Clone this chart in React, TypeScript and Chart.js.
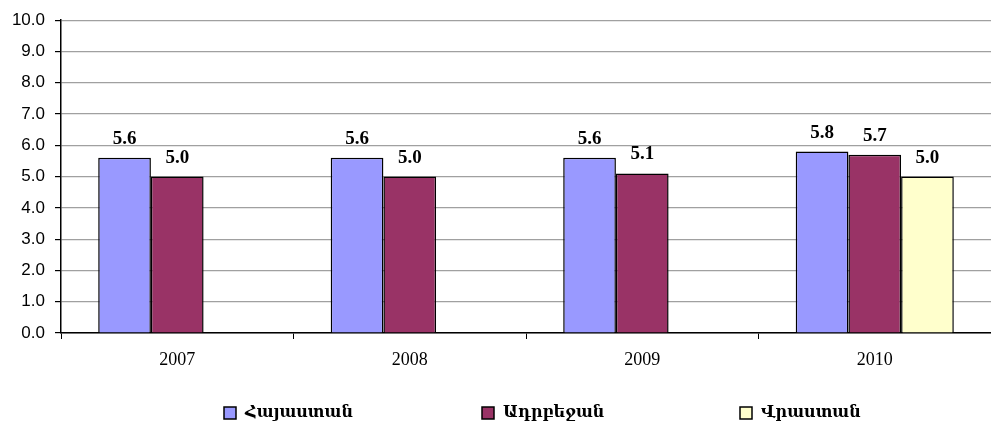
import React, { useEffect, useRef } from "react";
import { Chart, registerables } from "chart.js";

Chart.register(...registerables);

const years = ["2007", "2008", "2009", "2010"];
const seriesNames = ["Հայաստան", "Ադրբեջան", "Վրաստան"];
const armenia = [5.6, 5.6, 5.6, 5.8];
const azerbaijan = [5.0, 5.0, 5.1, 5.7];
const georgia: (number | null)[] = [null, null, null, 5.0];
const colors = ["#9999FF", "#993366", "#FFFFCC"];

const valueLabels = {
  id: "valueLabels",
  afterDatasetsDraw(chart: any) {
    const ctx = chart.ctx;
    ctx.save();
    ctx.font = "bold 19px 'Liberation Serif', 'Times New Roman', serif";
    ctx.fillStyle = "#000";
    ctx.textAlign = "center";
    ctx.textBaseline = "alphabetic";
    chart.data.datasets.forEach((ds: any, i: number) => {
      const meta = chart.getDatasetMeta(i);
      meta.data.forEach((bar: any, j: number) => {
        const v = ds.data[j];
        if (v === null || v === undefined) return;
        ctx.fillText(v.toFixed(1), bar.x, bar.y - 14);
      });
    });
    ctx.restore();
  },
};

const bottomLegend = {
  id: "bottomLegend",
  afterDraw(chart: any) {
    const ctx = chart.ctx;
    ctx.save();
    ctx.font = "bold 16px 'DejaVu Serif', serif";
    ctx.textBaseline = "middle";
    ctx.textAlign = "left";
    const y = 413;
    const startX = 224;
    const step = 258;
    chart.data.datasets.forEach((ds: any, i: number) => {
      const x = startX + i * step;
      ctx.fillStyle = ds.backgroundColor;
      ctx.fillRect(x, y - 6, 12, 12);
      ctx.strokeStyle = "#000";
      ctx.lineWidth = 1.5;
      ctx.strokeRect(x, y - 6, 12, 12);
      ctx.fillStyle = "#000";
      ctx.fillText(ds.label, x + 21, y);
    });
    ctx.restore();
  },
};

export default function App() {
  const ref = useRef<HTMLCanvasElement>(null);
  useEffect(() => {
    if (!ref.current) return;
    const data = [armenia, azerbaijan, georgia];
    const chart = new Chart(ref.current, {
      type: "bar",
      data: {
        labels: years,
        datasets: seriesNames.map((n, i) => ({
          label: n,
          data: data[i],
          backgroundColor: colors[i],
          borderColor: "#000",
          borderWidth: 1.5,
          barPercentage: 1,
          categoryPercentage: 0.68,
        })),
      },
      options: {
        animation: false,
        responsive: false,
        maintainAspectRatio: false,
        layout: { padding: { top: 13, right: 0, left: 0, bottom: 0 } },
        plugins: {
          tooltip: { enabled: false },
          legend: { display: false },
        },
        scales: {
          x: {
            grid: {
              drawOnChartArea: false,
              tickColor: "#000",
              tickLength: 6,
              offset: true,
            },
            border: { color: "#000", width: 1.5 },
            ticks: {
              color: "#000",
              font: { family: "'Liberation Serif', serif", size: 18 },
              padding: 10,
            },
            afterFit(scale: any) {
              scale.height = 97;
            },
          },
          y: {
            min: 0,
            max: 10,
            ticks: {
              stepSize: 1,
              autoSkip: false,
              color: "#000",
              padding: 10,
              font: { family: "'Liberation Sans', Arial, sans-serif", size: 17 },
              callback: (v: any) => Number(v).toFixed(1),
            },
            grid: { color: "#a0a0a0", tickColor: "#000", tickLength: 6, lineWidth: 1.2 },
            border: { color: "#000", width: 1.5 },
            afterFit(scale: any) {
              scale.width = 61;
            },
          },
        },
      },
      plugins: [valueLabels, bottomLegend],
    });
    return () => chart.destroy();
  }, []);
  return (
    <div style={{ position: "absolute", left: 0, top: 0, width: 991, height: 430, background: "#fff" }}>
      <canvas ref={ref} width={991} height={430} />
    </div>
  );
}
